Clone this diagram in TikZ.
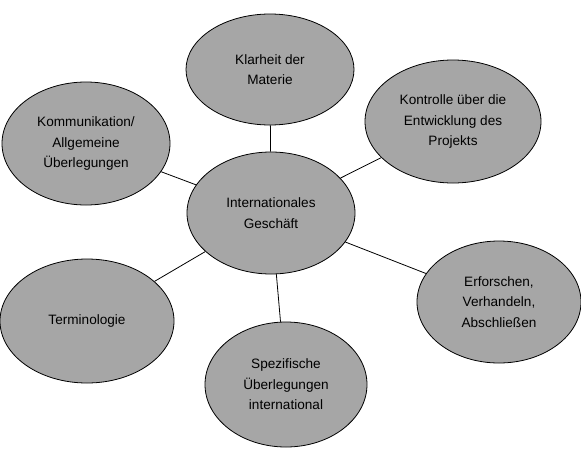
\documentclass[tikz,border=0pt]{standalone}
\usepackage{fontspec}
\setmainfont{Liberation Sans}
\usepackage{tikz}
\usetikzlibrary{positioning, shapes.geometric}
\usepackage{xcolor}
\definecolor{bubblegray}{HTML}{A6A6A6}

\begin{document}
\begin{tikzpicture}[x=1pt, y=-1pt,
          b/.style={ellipse, draw=black, line width=0.8pt, fill=bubblegray, text=black, inner sep=0pt, align=center, font=\fontsize{13.6}{20.5}\selectfont},
          l/.style={line width=0.8pt, black}]
        \useasboundingbox (0,0) rectangle (581,448);
        \node[b, minimum width=168pt, minimum height=122pt] (ig) at (271,213) {Internationales\\Geschäft};
        \node[b, minimum width=168pt, minimum height=111pt] (km) at (270,69.5) {Klarheit der\\Materie};
        \node[b, minimum width=176pt, minimum height=123pt] (ke) at (453,121.5) {Kontrolle über die\\Entwicklung des\\Projekts};
        \node[b, minimum width=168pt, minimum height=123pt] (ka) at (86,143.5) {Kommunikation/\\Allgemeine\\Überlegungen};
        \node[b, minimum width=174pt, minimum height=124pt] (te) at (87,321) {Terminologie};
        \node[b, minimum width=162pt, minimum height=125pt] (sp) at (286,384.5) {Spezifische\\Überlegungen\\international};
        \node[b, minimum width=164pt, minimum height=122pt] (ev) at (499,302) {Erforschen,\\Verhandeln,\\Abschließen};
        \draw[l] (ig) -- (km);
        \draw[l] (ig) -- (ke);
        \draw[l] (ig) -- (ka);
        \draw[l] (ig) -- (te);
        \draw[l] (ig) -- (sp);
        \draw[l] (ig) -- (ev);
      \end{tikzpicture}
\end{document}
